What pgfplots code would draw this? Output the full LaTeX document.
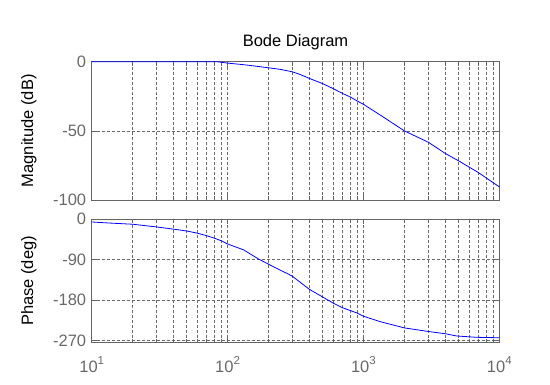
\documentclass[border=0pt]{standalone}
\usepackage{fontspec}
\setmainfont{Liberation Sans}
\usepackage{pgfplots}
\pgfplotsset{compat=1.18}
\definecolor{axgray}{RGB}{100,100,100}
\definecolor{gridgray}{RGB}{105,105,105}
\definecolor{ticklab}{RGB}{105,105,105}
\newcommand{\dec}[1]{10\raisebox{0.48em}{\fontsize{11.5}{12}\selectfont #1}}
\pgfplotsset{
  /pgfplots/bode/.style={
    xmin=10, xmax=10000,
    scale only axis, width=407.6pt,
    axis line style={axgray, line width=0.75pt},
    tick style={axgray, line width=0.6pt},
    tick align=inside,
    major tick length=5pt, minor tick length=4pt,
    xtick={10,100,1000,10000},
    minor xtick={20,30,40,50,60,70,80,90,200,300,400,500,600,700,800,900,2000,3000,4000,5000,6000,7000,8000,9000},
    xmajorgrids, xminorgrids, ymajorgrids,
    major grid style={gridgray, dash pattern=on 3pt off 2pt, line width=0.6pt},
    minor grid style={gridgray, dash pattern=on 3pt off 2pt, line width=0.6pt},
    ticklabel style={font=\fontsize{16.5}{19}\selectfont, text=ticklab},
    yticklabel style={xshift=-2pt},
    label style={font=\fontsize{16.5}{19}\selectfont, text=black},
    ylabel style={at={(axis description cs:-0.144,0.5)}, anchor=base},
  }
}
\begin{document}
\begin{tikzpicture}
\useasboundingbox (0,0) rectangle (550pt,385pt);
\begin{semilogxaxis}[bode,
  at={(91.7pt,185pt)}, anchor=south west,
  height=138.3pt,
  ymin=-100, ymax=0,
  ytick={-100,-50,0}, yticklabels={-100,-50,0},
  xticklabels={},
  ylabel={Magnitude (dB)},
  title={Bode Diagram},
  every axis title shift=0pt,
  title style={font=\fontsize{16.5}{19}\selectfont, at={(axis description cs:0.5,1)}, anchor=base, yshift=15pt},
]
\addplot[blue, line width=0.8pt] coordinates {
(10,0)(50,0)(83,0)(100,-1.0)(138,-2.4)(200,-4.4)(243,-5.5)(300,-7.3)(341,-9.2)(400,-12.1)(500,-15.8)(600,-19.5)(700,-22.9)(800,-25.5)(900,-28.4)(1000,-30.8)(1400,-40)(2000,-50)(3000,-58.2)(4000,-66.3)(5000,-71.6)(7000,-80.1)(10000,-90.5)
};
\end{semilogxaxis}
\begin{semilogxaxis}[bode,
  at={(91.7pt,42.3pt)}, anchor=south west,
  height=123.4pt,
  ymin=-275, ymax=0,
  ytick={-270,-180,-90,0}, yticklabels={-270,-180,-90,0},
  xticklabels={\dec{1},\dec{2},\dec{3},\dec{4}},
  xticklabel style={anchor=base, yshift=-30pt},
  ylabel={Phase (deg)},
]
\addplot[blue, line width=0.8pt] coordinates {
(10,-6)(13.8,-8.5)(20,-11)(30,-17)(40,-22)(50,-26)(60,-31)(70,-36.5)(80,-42)(90,-48)(100,-55)(131,-68)(168,-88)(200,-100)(243,-113)(280,-122)(300,-127)(400,-156)(500,-173)(600,-187)(700,-197)(900,-209)(1000,-216)(1325,-228)(2000,-242)(3000,-250)(4000,-255)(4850,-260)(6820,-263)(10000,-264)
};
\end{semilogxaxis}
\end{tikzpicture}
\end{document}
